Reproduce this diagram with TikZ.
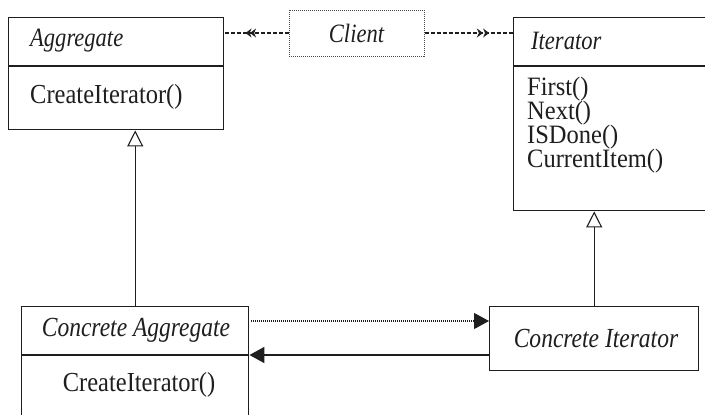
\documentclass[tikz,border=0pt]{standalone}
\usepackage{graphicx}
\usepackage{fontspec}
\setmainfont{Liberation Serif}
\usetikzlibrary{arrows.meta,decorations.markings}
\definecolor{ink}{HTML}{1E1E1E}
% slightly tall lettering used in the class boxes
\newcommand{\methtext}[1]{\scalebox{0.98}[1.1]{#1}}
\newcommand{\listtext}[1]{\scalebox{0.98}[1.06]{#1}}
\newcommand{\nametext}[1]{\scalebox{0.98}[1.15]{#1}}
\begin{document}
\begin{tikzpicture}[x=1pt,y=-1pt,
  classbox/.style={draw=ink, line width=1.4pt, rectangle, inner sep=0pt, anchor=north west},
  divider/.style={draw=ink, line width=1.4pt},
  cname/.style={font=\fontsize{23}{23}\selectfont\itshape, text=ink, inner sep=0pt},
  bigname/.style={font=\fontsize{24}{24}\selectfont\itshape, text=ink, inner sep=0pt},
  meth/.style={font=\fontsize{25}{25}\selectfont, text=ink, inner sep=0pt},
  inherit/.style={draw=ink, line width=1.4pt, -{Triangle[open, length=16pt, width=16pt, line width=1.1pt]}},
  navdotted/.style={draw=ink, line width=1.2pt, dash pattern=on 1pt off 1pt, -{Triangle[length=15pt, width=16pt]}},
  navsolid/.style={draw=ink, line width=1.4pt, -{Triangle[length=15pt, width=16pt]}},
  uses/.style={draw=ink, line width=1.2pt, dash pattern=on 4pt off 2pt,
    postaction={decorate, decoration={markings,
      mark=at position #1 with {\arrow[line width=1.1pt]{Stealth[length=6pt, width=9pt]}},
      mark=at position #1+0.07 with {\arrow[line width=1.1pt]{Stealth[length=6pt, width=9pt]}}}}},
]
\useasboundingbox (0,0) rectangle (705,415);
\clip (0,0) rectangle (705,415);
\fill[white] (0,0) rectangle (705,415);

% Aggregate
\node[classbox, minimum width=215pt, minimum height=112pt] (agg) at (8,17) {};
\draw[divider] (8,66) -- (223,66);
\node[cname, anchor=west] (aggname) at (30,41) {\nametext{Aggregate}};
\node[meth, anchor=west] (aggm) at (30,97) {\methtext{CreateIterator()}};

% Client
\node[draw=ink!80, line width=1pt, dash pattern=on 1pt off 1pt, rectangle,
      minimum width=135pt, minimum height=46pt, inner sep=0pt,
      font=\fontsize{23}{23}\selectfont\itshape, text=ink] (client) at (356.5,33) {\nametext{Client}};

% Iterator
\node[classbox, minimum width=200pt, minimum height=193pt] (iter) at (513,17) {};
\draw[divider] (513,66) -- (713,66);
\node[cname, anchor=west] (itername) at (531,41) {\nametext{Iterator}};
\node[meth, anchor=west] (m1) at (527,89) {\listtext{First()}};
\node[meth, anchor=west] (m2) at (527,113) {\listtext{Next()}};
\node[meth, anchor=west] (m3) at (527,137) {\listtext{ISDone()}};
\node[meth, anchor=west] (m4) at (527,161) {\listtext{CurrentItem()}};

% Concrete Aggregate
\node[classbox, minimum width=227pt, minimum height=130pt] (cagg) at (21,306) {};
\draw[divider] (21,355) -- (248,355);
\node[bigname] (caggname) at (136,330) {\nametext{Concrete Aggregate}};
\node[meth] (caggm) at (139,385) {\methtext{CreateIterator()}};

% Concrete Iterator
\node[classbox, minimum width=209pt, minimum height=64pt] (citer) at (489,306) {};
\node[bigname] (citername) at (596,339) {\nametext{Concrete Iterator}};

% generalisations
\draw[inherit] (cagg.north) -- (cagg.north |- agg.south);
\draw[inherit] (citer.north) -- (citer.north |- iter.south);

% navigation between the concrete classes
\draw[navdotted] ([xshift=2pt, yshift=-15pt]cagg.north east) -- ([yshift=-15pt]citer.north west);
\draw[navsolid] ([yshift=-49pt]citer.north west) -- ([yshift=-49pt]cagg.north east);

% client associations
\draw[uses=0.6] (client.west) -- (client.west -| agg.east);
\draw[uses=0.66] (client.east) -- (client.east -| iter.west);
\end{tikzpicture}
\end{document}
